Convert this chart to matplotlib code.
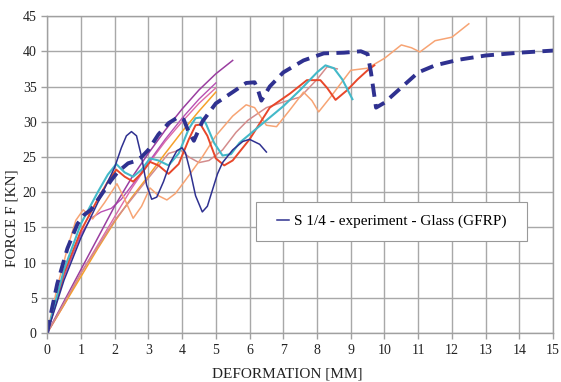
import matplotlib
matplotlib.use("Agg")
import matplotlib.pyplot as plt
from matplotlib.patches import Rectangle

plt.rcParams['font.family'] = ['Liberation Serif', 'DejaVu Serif']

# S 1/4 experiment (thin navy, in legend)
s14_x = [0, 0.5, 1.0, 1.5, 2.0, 2.2, 2.35, 2.5, 2.65, 2.8, 2.95, 3.1, 3.25, 3.45, 3.65, 3.85, 4.0,
         4.1, 4.25, 4.4, 4.6, 4.75, 4.9, 5.05, 5.2, 5.5, 5.8, 6.0, 6.3, 6.5]
s14_y = [0, 7.5, 13.5, 18.5, 23.5, 26.3, 28, 28.6, 28, 25, 21, 19, 19.3, 21.5, 24.2, 25.9, 26.3,
         25.6, 22.8, 19.5, 17.2, 18, 20.3, 22.6, 24.2, 26, 27.2, 27.5, 26.8, 25.7]

# thick dashed navy
dash_x = [0, 0.1, 0.3, 0.6, 0.9, 1.1, 1.3, 1.5, 1.7, 1.9, 2.1, 2.4, 2.6, 2.8, 3.0, 3.3, 3.6, 3.9,
          4.05, 4.2, 4.35, 4.6, 5.0, 5.5, 5.9, 6.15, 6.25, 6.35, 6.6, 7.0, 7.6, 8.2, 8.8, 9.3, 9.5,
          9.6, 9.75, 10.0, 10.3, 11.0, 11.5, 12.2, 13.0, 14.0, 15.0]
dash_y = [0, 2.5, 7, 12, 15.5, 16.8, 17.5, 18.9, 20.3, 21.7, 22.9, 24.1, 24.4, 25, 26, 28.2, 29.8,
          30.7, 30.3, 28.5, 27.3, 30, 32.6, 34.2, 35.5, 35.6, 34.5, 33, 35, 37, 38.7, 39.7, 39.8,
          40, 39.6, 37, 32, 32.7, 34, 37, 38, 38.8, 39.4, 39.8, 40.1]

cyan_x = [0, 0.5, 1.0, 1.5, 1.8, 2.05, 2.3, 2.55, 2.8, 3.05, 3.3, 3.6, 3.9, 4.2, 4.4, 4.55, 4.7,
          4.95, 5.2, 5.45, 5.7, 6.0, 6.5, 7.0, 7.5, 8.0, 8.25, 8.5, 8.75, 9.05]
cyan_y = [0, 9, 15.5, 20, 22.5, 24, 22.8, 22.2, 23.2, 24.8, 24.5, 23.8, 25.5, 29, 30.5, 30.6, 29.8,
          27, 25.2, 25.4, 27, 28.2, 30.2, 32.2, 34.5, 37, 38, 37.6, 36, 33.2]

red_x = [0, 0.5, 1.0, 1.5, 1.8, 2.05, 2.3, 2.55, 2.8, 3.05, 3.3, 3.6, 3.9, 4.2, 4.4, 4.55, 4.75,
         5.0, 5.25, 5.5, 6.0, 6.6, 7.2, 7.7, 8.1, 8.3, 8.55, 8.9, 9.2, 9.5, 9.7]
red_y = [0, 8.5, 14.5, 19, 21.5, 23.2, 22.2, 21.5, 22.7, 24.3, 23.8, 22.6, 24, 27.5, 29.5, 29.6,
         28, 24.8, 23.8, 24.5, 27.5, 32, 34, 35.9, 35.9, 34.8, 33.1, 34.5, 36, 37.3, 38]

salmon_x = [0, 0.3, 0.6, 0.85, 1.07, 1.35, 1.7, 2.07, 2.3, 2.55, 2.8, 3.05, 3.3, 3.55, 3.8, 4.1,
            4.6, 5.0, 5.5, 5.9, 6.15, 6.5, 6.8, 7.2, 7.6, 7.85, 8.05, 8.4, 9.0, 9.5, 10.0, 10.5,
            10.8, 11.05, 11.5, 12.0, 12.5]
salmon_y = [0, 6.5, 12, 16, 17.5, 16.2, 18.5, 21.2, 19, 16.3, 18, 20.6, 19.5, 18.9, 19.8, 21.7,
            25, 28, 30.8, 32.4, 32, 29.5, 29.3, 31.7, 34.2, 33, 31.4, 33.5, 37.3, 37.6, 39, 40.9,
            40.5, 39.9, 41.5, 42, 43.9]

rose_x = [0, 1.0, 2.0, 3.0, 3.6, 3.95, 4.2, 4.5, 4.8, 5.2, 5.6, 5.95, 6.5, 7.0, 7.5, 8.0, 8.3, 8.6]
rose_y = [0, 8.5, 16, 22, 25.5, 26, 25, 24.2, 24.5, 26, 28.5, 30.2, 32, 32.8, 33.5, 36, 37.8, 37.5]

purple_x = [0, 0.5, 1, 1.5, 2, 2.5, 3, 3.5, 4, 4.5, 5, 5.5]
purple_y = [0, 4.5, 9, 13.5, 18, 22, 25.5, 28.8, 31.8, 34.5, 36.8, 38.7]

magenta_x = [0, 0.5, 1, 1.3, 1.6, 1.9, 2.2, 2.6, 3, 3.5, 4, 4.5, 5]
magenta_y = [0, 8, 14, 16.3, 17.2, 17.7, 19, 21.5, 24.2, 27.5, 30.5, 33.2, 35.5]

pink_x = [0, 0.5, 1, 1.5, 2, 2.5, 3, 3.5, 4, 4.5, 5]
pink_y = [0, 4, 8.5, 12.5, 16.5, 20.5, 24, 27.2, 30, 32.6, 34.8]

orange_x = [0, 0.5, 1, 1.5, 2, 2.5, 3, 3.5, 4, 4.5, 5]
orange_y = [0, 4, 8, 12, 15.8, 19.2, 22.3, 25.5, 28.6, 31.5, 34.2]

legend_label = 'S 1/4 - experiment - Glass (GFRP)'

fig = plt.figure(figsize=(5.61, 3.82), dpi=100)
ax = fig.add_axes([0.084, 0.128, 0.902, 0.830])

ax.plot(pink_x, pink_y, color='#dc6aa8', lw=1.0)
ax.plot(orange_x, orange_y, color='#f5a12a', lw=1.1)
ax.plot(magenta_x, magenta_y, color='#b850b4', lw=1.0)
ax.plot(purple_x, purple_y, color='#9a3ea0', lw=1.1)
ax.plot(rose_x, rose_y, color='#d48c8c', lw=1.1)
ax.plot(salmon_x, salmon_y, color='#f7a474', lw=1.1)
ax.plot(red_x, red_y, color='#e8472a', lw=1.4)
ax.plot(cyan_x, cyan_y, color='#43b9c9', lw=1.5)
ax.plot(dash_x, dash_y, color='#2f3190', lw=2.8, dashes=(3.4, 1.9))
ax.plot(s14_x, s14_y, color='#2f3190', lw=1.1, label=legend_label)

ax.set_xlim(0, 15)
ax.set_ylim(0, 45)
ax.set_xticks(range(0, 16))
ax.set_yticks(range(0, 46, 5))
ax.grid(True, color='#a8a8a8', lw=1.0)
ax.set_axisbelow(True)
for s in ax.spines.values():
    s.set_color('#a0a0a0')
    s.set_linewidth(1.0)
ax.tick_params(colors='#a0a0a0', labelcolor='#222222', labelsize=10, length=4, width=1.0)

ax.set_xlabel('DEFORMATION [MM]', fontsize=11, color='#222222')
ax.set_ylabel('FORCE F [KN]', fontsize=11, color='#222222')
ax.xaxis.set_label_coords(0.474, -0.108)
ax.yaxis.set_label_coords(-0.056, 0.363)

# legend box
ax.add_patch(Rectangle((0.413, 0.29), 0.536, 0.123, transform=ax.transAxes,
                       facecolor='white', edgecolor='#999999', lw=0.8, zorder=4))
leg = ax.legend(loc='center', bbox_to_anchor=(0.681, 0.352), fontsize=11, frameon=False,
                handlelength=0.8, handletextpad=0.3, borderpad=0, borderaxespad=0)
leg.set_zorder(5)

fig.savefig('out.png', dpi=100)
